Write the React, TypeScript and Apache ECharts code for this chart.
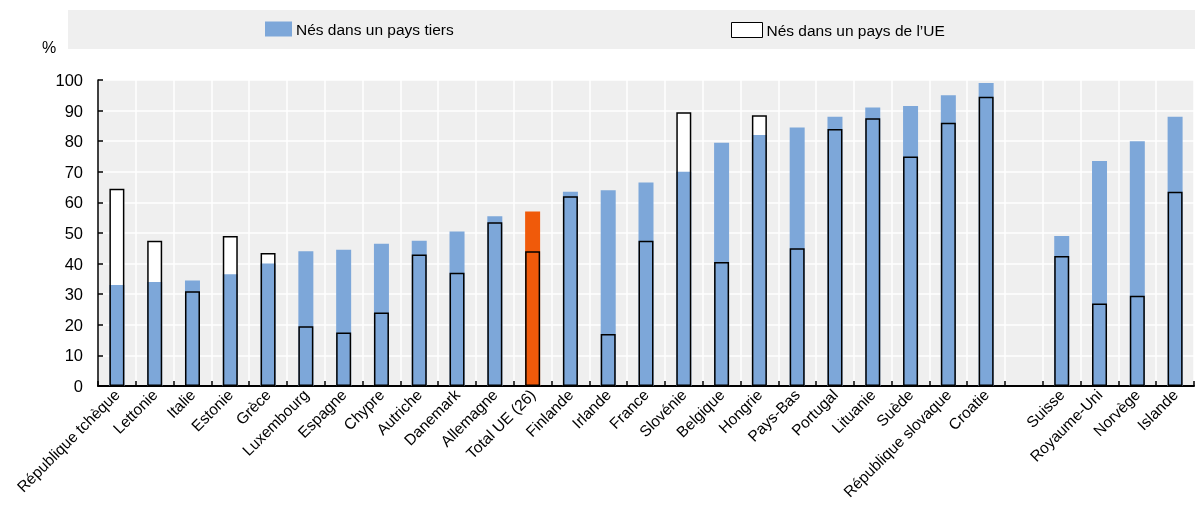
import React, { useEffect, useRef } from "react";
import * as echarts from "echarts";

const categories = [
  "République tchèque", "Lettonie", "Italie", "Estonie", "Grèce", "Luxembourg",
  "Espagne", "Chypre", "Autriche", "Danemark", "Allemagne", "Total UE (26)",
  "Finlande", "Irlande", "France", "Slovénie", "Belgique", "Hongrie", "Pays-Bas",
  "Portugal", "Lituanie", "Suède", "République slovaque", "Croatie", "",
  "Suisse", "Royaume-Uni", "Norvège", "Islande",
];

const thirdCountry = [
  33, 34, 34.5, 36.5, 40, 44, 44.5, 46.5, 47.5, 50.5, 55.5, 57,
  63.5, 64, 66.5, 70, 79.5, 82, 84.5, 88, 91, 91.5, 95, 99, null,
  49, 73.5, 80, 88,
];

const euCountry = [
  64.5, 47.5, 31, 49, 43.5, 19.5, 17.5, 24, 43, 37, 53.5, 44,
  62, 17, 47.5, 89.5, 40.5, 88.5, 45, 84, 87.5, 75, 86, 94.5, null,
  42.5, 27, 29.5, 63.5,
];

const yTicks = { min: 0, max: 100, interval: 10 };

const SERIES_THIRD = "Nés dans un pays tiers";
const SERIES_EU = "Nés dans un pays de l’UE";
const HIGHLIGHT = "Total UE (26)";

const BLUE = "#7DA7D9";
const ORANGE = "#F05A0A";
const FONT = "'Liberation Sans', Arial, sans-serif";

export default function App() {
  const ref = useRef<HTMLDivElement>(null);

  useEffect(() => {
    if (!ref.current) return;
    const chart = echarts.init(ref.current, null, { renderer: "svg" });

    const thirdData = thirdCountry.map((v, i) =>
      categories[i] === HIGHLIGHT
        ? { value: v, itemStyle: { color: ORANGE } }
        : v
    );

    chart.setOption({
      animation: false,
      textStyle: { fontFamily: FONT },
      graphic: [
        {
          type: "rect",
          z: 0,
          shape: { x: 68, y: 10, width: 1127, height: 39 },
          style: { fill: "#EFEFEF" },
          silent: true,
        },
        {
          type: "text",
          left: 42,
          top: 39,
          style: { text: "%", fontSize: 16, fontFamily: FONT, fill: "#000" },
        },
      ],
      legend: [
        {
          z: 5,
          left: 265,
          top: 21,
          padding: 0,
          itemWidth: 27,
          itemHeight: 15,
          itemGap: 4,
          selectedMode: false,
          data: [{ name: SERIES_THIRD, icon: "rect" }],
          textStyle: { fontSize: 15.5, fontFamily: FONT, color: "#000", padding: [0, 0, 0, -1] },
        },
        {
          z: 5,
          left: 731,
          top: 22,
          padding: 0,
          itemWidth: 31,
          itemHeight: 15,
          selectedMode: false,
          data: [
            {
              name: SERIES_EU,
              icon: "rect",
              itemStyle: { color: "#FFFFFF", borderColor: "#000", borderWidth: 1 },
            },
          ],
          textStyle: { fontSize: 15.5, fontFamily: FONT, color: "#000", padding: [0, 0, 0, -1] },
        },
      ],
      grid: {
        left: 98,
        right: 3,
        top: 80,
        bottom: 120,
        show: true,
        backgroundColor: "#EFEFEF",
        borderWidth: 0,
        containLabel: false,
        outerBoundsMode: "none",
      },
      xAxis: {
        type: "category",
        data: categories,
        boundaryGap: true,
        axisLine: { show: true, lineStyle: { color: "#000", width: 2 } },
        axisTick: { show: true, inside: true, length: 5, interval: 0, lineStyle: { color: "#000", width: 1.5 } },
        splitLine: { show: true, interval: 0, lineStyle: { color: "#FFFFFF", width: 1.5 } },
        axisLabel: {
          interval: 0,
          rotate: 45,
          margin: 6,
          fontSize: 15.5,
          fontFamily: FONT,
          color: "#000",
        },
      },
      yAxis: {
        type: "value",
        min: yTicks.min,
        max: yTicks.max,
        interval: yTicks.interval,
        axisLine: { show: true, lineStyle: { color: "#000", width: 1.5 } },
        axisTick: { show: true, inside: true, length: 5, lineStyle: { color: "#000", width: 1.5 } },
        splitLine: { show: true, lineStyle: { color: "#FFFFFF", width: 1.5 } },
        axisLabel: { fontSize: 16.5, fontFamily: FONT, color: "#000", margin: 15 },
      },
      series: [
        {
          name: "eu_fill",
          type: "bar",
          data: euCountry,
          barWidth: 15,
          barGap: "-100%",
          itemStyle: { color: "#FFFFFF" },
          silent: true,
        },
        {
          name: SERIES_THIRD,
          type: "bar",
          data: thirdData,
          barWidth: 15,
          barGap: "-100%",
          itemStyle: { color: BLUE },
        },
        {
          name: SERIES_EU,
          type: "bar",
          data: euCountry,
          barWidth: 15,
          barGap: "-100%",
          itemStyle: { color: "rgba(0,0,0,0)", borderColor: "#000", borderWidth: 1.5 },
        },
      ],
    });

    return () => chart.dispose();
  }, []);

  return (
    <div
      ref={ref}
      style={{ position: "fixed", left: 0, top: 0, width: 1197, height: 506 }}
    />
  );
}
